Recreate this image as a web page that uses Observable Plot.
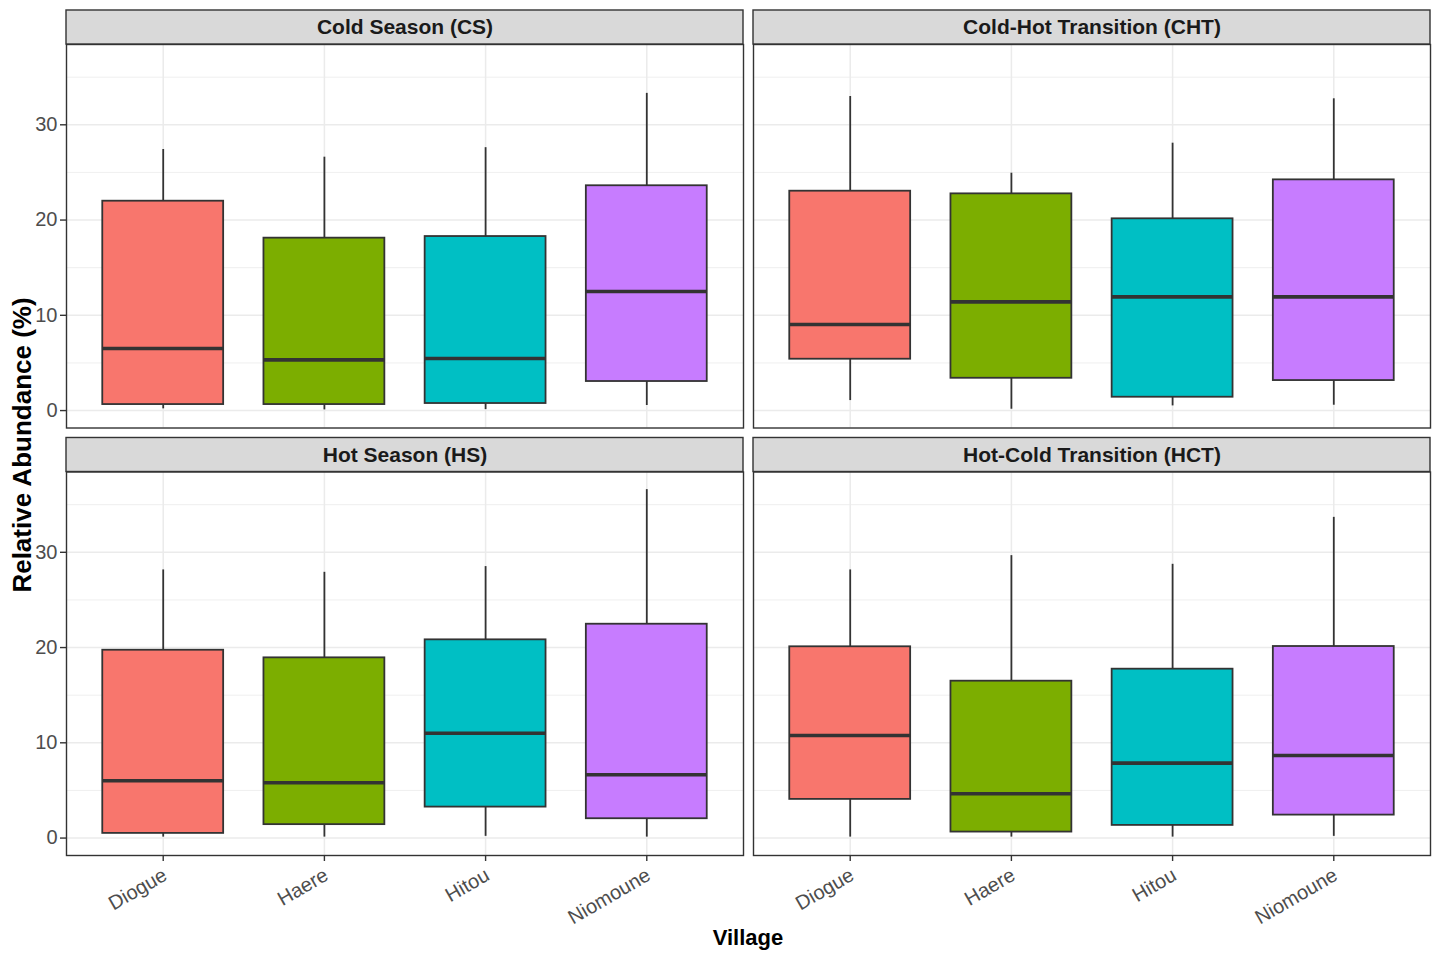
<!DOCTYPE html>
<html>
<head>
<meta charset="utf-8">
<script src="https://cdn.jsdelivr.net/npm/d3@7"></script>
<script src="https://cdn.jsdelivr.net/npm/@observablehq/plot@0.6"></script>
<style>
html, body { margin: 0; padding: 0; background: #ffffff; }
#chart { width: 1440px; height: 960px; }
</style>
</head>
<body>
<div id="chart"></div>
<script>
// ---- data ----
const villages = ["Diogue", "Haere", "Hitou", "Niomoune"];
const seasons = ["Cold Season (CS)", "Cold-Hot Transition (CHT)", "Hot Season (HS)", "Hot-Cold Transition (HCT)"];
const seasonCol = [0, 1, 0, 1];
const seasonRow = [0, 0, 1, 1];
const fillColors = ["#F8766D", "#7CAE00", "#00BFC4", "#C77CFF"];

// per season (CS, CHT, HS, HCT), per village (Diogue, Haere, Hitou, Niomoune)
const whiskerLow = [
  [0.18, 0.07, 0.10, 0.53],
  [1.05, 0.14, 0.49, 0.56],
  [0.10, 0.10, 0.18, 0.10],
  [0.10, 0.10, 0.10, 0.18]
];
const q1 = [
  [0.63, 0.63, 0.74, 3.05],
  [5.39, 3.39, 1.40, 3.15],
  [0.49, 1.41, 3.25, 2.03],
  [4.06, 0.63, 1.33, 2.41]
];
const median = [
  [6.51, 5.32, 5.46, 12.50],
  [9.03, 11.41, 11.94, 11.94],
  [6.02, 5.81, 11.01, 6.65],
  [10.77, 4.66, 7.87, 8.67]
];
const q3 = [
  [21.98, 18.10, 18.27, 23.60],
  [23.03, 22.75, 20.13, 24.22],
  [19.72, 18.92, 20.81, 22.45],
  [20.08, 16.47, 17.73, 20.11]
];
const whiskerHigh = [
  [27.41, 26.60, 27.60, 33.30],
  [32.97, 24.92, 28.07, 32.73],
  [28.15, 27.90, 28.50, 36.58],
  [28.15, 29.65, 28.74, 33.67]
];
const yTicks = [0, 10, 20, 30];
const yMinorTicks = [5, 15, 25, 35];
const yTitle = "Relative Abundance (%)";
const xTitle = "Village";

// ---- tables built from the arrays ----
const boxes = [];
seasons.forEach((s, i) => villages.forEach((v, j) => boxes.push({
  season: s, col: seasonCol[i], row: seasonRow[i], village: v,
  low: whiskerLow[i][j], q1: q1[i][j], med: median[i][j], q3: q3[i][j], high: whiskerHigh[i][j]
})));
const strips = seasons.map((s, i) => ({season: s, col: seasonCol[i], row: seasonRow[i]}));

const yMin = -1.83, yMax = 38.43, stripTop = 42.0;
const FONT = "'Liberation Sans', Arial, Helvetica, sans-serif";

const plot = Plot.plot({
  width: 1440,
  height: 960,
  marginLeft: 66,
  marginRight: 10,
  marginTop: 44,
  marginBottom: 105,
  style: {fontFamily: FONT, background: "#ffffff", overflow: "visible"},
  fx: {domain: [0, 1], paddingInner: 0.014556, paddingOuter: 0, axis: null, round: false},
  fy: {domain: [0, 1], paddingInner: 0.10292, paddingOuter: 0, axis: null, round: false},
  x: {type: "band", domain: villages, paddingInner: 0.25, paddingOuter: 0.225, round: false},
  y: {domain: [yMin, yMax]},
  color: {type: "ordinal", domain: villages, range: fillColors},
  marks: [
    Plot.gridY(yMinorTicks, {stroke: "#EBEBEB", strokeOpacity: 1, strokeWidth: 0.8}),
    Plot.gridY(yTicks, {stroke: "#EBEBEB", strokeOpacity: 1, strokeWidth: 1.5}),
    Plot.gridX({stroke: "#EBEBEB", strokeOpacity: 1, strokeWidth: 1.5}),
    Plot.ruleX(boxes, {fx: "col", fy: "row", x: "village", y1: "low", y2: "q1", stroke: "#333333", strokeWidth: 1.8}),
    Plot.ruleX(boxes, {fx: "col", fy: "row", x: "village", y1: "q3", y2: "high", stroke: "#333333", strokeWidth: 1.8}),
    Plot.barY(boxes, {fx: "col", fy: "row", x: "village", y1: "q1", y2: "q3", fill: "village", stroke: "#333333", strokeWidth: 1.8}),
    Plot.tickY(boxes, {fx: "col", fy: "row", x: "village", y: "med", stroke: "#333333", strokeWidth: 3.6}),
    Plot.frame({stroke: "#333333", strokeWidth: 1.4}),
    Plot.rect(strips, {fx: "col", fy: "row", y1: () => yMax, y2: () => stripTop, fill: "#D9D9D9", stroke: "#333333", strokeWidth: 1.4}),
    Plot.text(strips, {fx: "col", fy: "row", text: "season", frameAnchor: "top", lineAnchor: "middle", dy: -17, fontSize: 21, fontWeight: "bold", fill: "#1A1A1A"}),
    Plot.axisY(yTicks, {anchor: "left", facetAnchor: "left", tickSize: 6, tickPadding: 3, fontSize: 20, stroke: "#333333", strokeWidth: 1.4, fill: "#4D4D4D", label: null}),
    // x tick marks
    Plot.axisX({anchor: "bottom", facetAnchor: "bottom", tickSize: 6, tickFormat: () => "", stroke: "#333333", strokeWidth: 1.4, label: null}),
    // x tick labels (rotated 30°)
    Plot.axisX({anchor: "bottom", facetAnchor: "bottom", tickRotate: -30, tickSize: 0, tickPadding: 10, dx: 2, dy: 8, fontSize: 20, fill: "#4D4D4D", label: null})
  ]
});

document.getElementById("chart").appendChild(plot);

const svg = d3.select(plot);
svg.append("text")
  .attr("transform", "translate(31,445) rotate(-90)")
  .attr("text-anchor", "middle")
  .attr("font-family", FONT)
  .attr("font-size", 26)
  .attr("font-weight", "bold")
  .attr("fill", "#000000")
  .text(yTitle);
svg.append("text")
  .attr("x", 748)
  .attr("y", 945)
  .attr("text-anchor", "middle")
  .attr("font-family", FONT)
  .attr("font-size", 22)
  .attr("font-weight", "bold")
  .attr("fill", "#000000")
  .text(xTitle);
</script>
</body>
</html>
